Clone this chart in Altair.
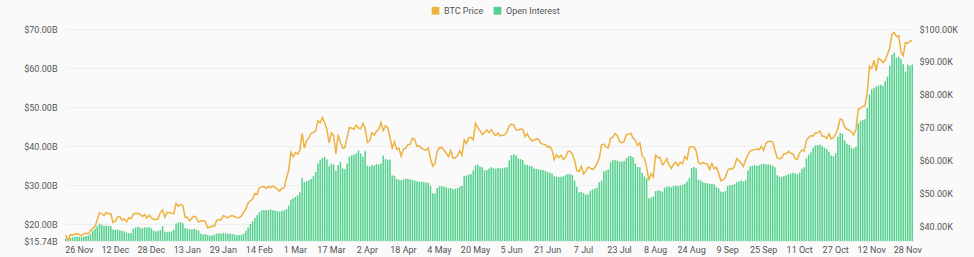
import altair as alt
import pandas as pd

# ---- Open Interest (USD billions), daily, 20 Nov 2023 .. 30 Nov 2024 ----
oi_2023_11 = [16.4, 16.1, 16.5, 16.7, 16.8, 16.9, 16.8, 16.7, 16.9, 17.0, 17.1]
oi_2023_12 = [17.5, 18.4, 18.9, 19.6, 20.2, 19.9, 19.6, 19.7, 19.6, 19.5, 18.7, 18.6, 18.7, 18.5, 18.3, 18.2,
              17.9, 17.7, 17.8, 18.9, 19.2, 19.4, 19.2, 19.0, 19.3, 19.1, 19.3, 19.0, 18.4, 18.2, 18.3]
oi_2024_01 = [18.5, 19.5, 18.2, 18.0, 18.1, 18.2, 18.6, 20.2, 20.4, 20.6, 20.3, 19.0, 18.9, 18.8, 18.7, 18.9,
              18.6, 18.4, 17.6, 17.4, 17.5, 17.3, 17.1, 17.2, 17.4, 17.6, 17.7, 17.6, 17.8, 17.7, 17.6]
oi_2024_02 = [17.6, 17.5, 17.4, 17.2, 17.3, 17.3, 17.6, 18.3, 19.2, 20.1, 20.8, 21.6, 22.3, 23.1, 23.6, 23.7,
              23.6, 23.7, 23.8, 23.6, 23.5, 23.4, 23.3, 23.4, 23.6, 23.9, 24.8, 26.3, 26.7]
oi_2024_03 = [27.0, 27.5, 28.2, 31.9, 30.8, 31.0, 31.3, 31.6, 32.3, 33.4, 35.6, 36.4, 37.0, 37.2, 36.6, 34.9,
              35.5, 35.3, 33.7, 35.2, 36.0, 34.3, 34.1, 35.6, 37.3, 37.7, 37.8, 38.2, 38.9, 38.1, 37.3]
oi_2024_04 = [38.7, 35.0, 34.8, 35.2, 35.0, 35.4, 35.3, 35.6, 37.6, 36.7, 36.5, 36.6, 32.6, 32.4, 31.6, 31.4,
              31.3, 31.5, 31.7, 31.6, 31.5, 31.4, 31.2, 31.0, 30.9, 30.9, 30.8, 30.7, 30.6, 29.8]
oi_2024_05 = [28.0, 27.9, 29.3, 29.7, 29.8, 29.6, 29.5, 29.2, 29.3, 29.0, 29.1, 29.3, 29.6, 29.8, 32.3, 32.5,
              32.7, 32.9, 33.8, 35.1, 35.3, 34.8, 34.6, 33.8, 33.9, 34.3, 34.6, 34.4, 34.2, 34.5, 34.3]
oi_2024_06 = [34.4, 34.5, 34.6, 36.4, 37.7, 37.9, 37.6, 36.9, 36.7, 36.5, 35.3, 35.2, 35.0, 34.9, 34.3, 34.2,
              34.1, 34.0, 33.9, 33.7, 33.4, 33.2, 33.0, 32.3, 32.2, 32.1, 32.2, 32.3, 32.6, 32.9]
oi_2024_07 = [32.8, 32.6, 31.2, 29.6, 28.2, 28.3, 28.0, 27.6, 27.7, 28.6, 28.9, 29.1, 29.4, 30.8, 31.2, 33.5,
              33.8, 34.0, 35.9, 36.4, 36.5, 36.3, 36.1, 36.0, 36.2, 36.9, 37.4, 37.5, 37.2, 35.6, 34.7]
oi_2024_08 = [34.6, 33.2, 32.3, 31.8, 26.7, 26.9, 27.1, 28.5, 28.7, 28.6, 28.4, 29.4, 29.6, 29.7, 29.5, 29.8,
              29.9, 29.8, 29.9, 30.1, 30.4, 31.0, 31.8, 34.4, 34.7, 34.3, 31.4, 31.2, 30.8, 30.6, 30.5]
oi_2024_09 = [30.4, 30.3, 30.2, 29.6, 29.2, 28.4, 28.3, 28.5, 29.8, 30.0, 30.1, 30.3, 30.8, 31.0, 31.2, 31.0,
              31.3, 33.8, 34.8, 35.0, 35.1, 35.0, 35.1, 35.4, 35.5, 35.3, 35.4, 35.2, 35.0, 34.6]
oi_2024_10 = [32.6, 32.2, 32.1, 32.4, 32.6, 32.8, 33.0, 33.2, 33.0, 32.9, 33.3, 34.2, 34.6, 36.9, 37.8, 38.4,
              39.6, 40.2, 40.3, 40.4, 40.0, 39.6, 39.3, 38.6, 37.6, 37.4, 38.2, 42.4, 43.4, 43.2, 41.5]
oi_2024_11 = [40.6, 40.3, 39.6, 39.4, 39.8, 45.8, 46.4, 46.7, 46.9, 49.8, 53.2, 54.6, 54.9, 55.3, 55.5, 55.7,
              55.4, 56.6, 57.8, 60.6, 63.4, 63.9, 62.6, 62.9, 62.3, 61.0, 59.1, 60.9, 60.6, 60.9]

# ---- BTC price (USD thousands), same days ----
px_2023_11 = [37.4, 35.8, 37.4, 37.3, 37.7, 37.8, 37.5, 37.2, 37.8, 37.9, 37.7]
px_2023_12 = [38.7, 39.5, 39.9, 42.0, 44.1, 43.8, 43.3, 44.2, 43.8, 43.8, 41.2, 41.5, 42.9, 43.0, 41.9, 42.3,
              41.4, 42.6, 42.3, 43.7, 43.9, 44.0, 43.7, 43.0, 43.6, 42.5, 43.4, 42.6, 42.1, 42.1, 42.3]
px_2024_01 = [44.2, 45.0, 42.8, 44.2, 44.2, 44.0, 43.9, 47.0, 46.1, 46.6, 46.3, 42.8, 42.8, 41.7, 42.5, 43.1,
              42.7, 41.3, 41.6, 41.7, 41.6, 39.5, 39.8, 40.1, 40.0, 41.8, 42.1, 42.0, 43.3, 42.9, 42.6]
px_2024_02 = [43.1, 43.2, 43.0, 42.6, 42.7, 43.1, 44.3, 45.3, 47.1, 47.8, 48.3, 50.0, 49.7, 51.8, 52.0, 52.1,
              51.6, 52.1, 51.8, 52.3, 51.8, 51.3, 50.7, 51.6, 51.7, 54.5, 57.1, 62.5, 61.2]
px_2024_03 = [62.4, 62.0, 63.1, 68.3, 63.8, 66.1, 66.9, 68.3, 68.5, 69.0, 72.1, 71.5, 73.1, 71.4, 69.5, 65.3,
              68.4, 67.6, 62.0, 67.9, 65.5, 63.8, 64.0, 67.2, 70.0, 69.9, 69.5, 70.8, 69.9, 69.7, 71.3]
px_2024_04 = [69.7, 65.5, 66.0, 68.5, 67.8, 68.9, 69.4, 71.6, 69.1, 70.6, 70.0, 67.1, 63.8, 65.7, 63.4, 63.8,
              61.3, 63.5, 63.8, 64.9, 64.9, 66.8, 66.4, 64.3, 64.5, 63.8, 63.4, 63.1, 63.8, 60.6]
px_2024_05 = [58.3, 59.1, 62.9, 63.9, 64.0, 63.2, 62.3, 61.2, 63.1, 60.8, 60.8, 61.5, 63.0, 61.6, 66.3, 65.2,
              67.0, 67.0, 66.3, 71.4, 70.1, 69.1, 67.9, 68.5, 69.3, 68.5, 69.4, 68.3, 67.6, 68.4, 67.5]
px_2024_06 = [67.7, 67.8, 68.8, 70.6, 71.1, 70.8, 69.3, 69.3, 69.6, 69.5, 67.3, 68.2, 66.8, 66.0, 66.2, 66.6,
              66.5, 65.2, 65.0, 64.9, 64.1, 64.3, 63.2, 60.3, 61.8, 60.9, 61.6, 60.3, 60.9, 62.7]
px_2024_07 = [62.9, 62.0, 60.2, 57.0, 56.7, 58.2, 55.9, 56.7, 58.0, 57.7, 57.3, 57.9, 59.2, 60.8, 64.8, 65.0,
              64.1, 63.9, 66.7, 67.2, 68.2, 67.6, 65.9, 65.4, 65.8, 67.9, 68.0, 68.3, 66.8, 66.2, 64.6]
px_2024_08 = [65.4, 61.5, 60.7, 58.1, 54.0, 56.0, 55.0, 61.7, 60.9, 60.9, 58.7, 59.4, 60.6, 58.7, 57.6, 58.9,
              59.5, 58.4, 59.5, 59.0, 61.2, 60.4, 64.1, 64.2, 64.2, 62.9, 59.4, 59.0, 59.4, 59.1, 58.9]
px_2024_09 = [57.3, 59.1, 57.5, 58.0, 56.2, 53.9, 54.2, 54.9, 57.0, 57.6, 57.4, 58.1, 60.6, 60.0, 59.2, 58.2,
              60.3, 61.7, 62.9, 63.2, 63.3, 63.6, 63.3, 64.3, 63.1, 65.2, 65.8, 65.9, 65.6, 63.3]
px_2024_10 = [60.8, 60.6, 60.8, 62.1, 62.1, 62.8, 62.2, 62.1, 60.6, 60.3, 62.4, 63.2, 62.9, 66.1, 67.0, 67.6,
              67.4, 68.4, 68.4, 69.0, 67.4, 67.4, 66.7, 68.2, 66.6, 67.0, 68.0, 69.9, 72.7, 72.3, 70.2]
px_2024_11 = [69.5, 69.3, 68.7, 67.8, 69.4, 75.6, 75.9, 76.5, 76.7, 80.5, 88.7, 88.0, 90.5, 87.3, 91.1, 90.6,
              89.8, 90.5, 92.3, 94.3, 98.4, 98.9, 97.7, 98.0, 93.0, 91.9, 95.9, 95.6, 96.3, 96.4]

# ---- axis ticks ----
x_tick_dates = ["2023-11-26", "2023-12-12", "2023-12-28", "2024-01-13", "2024-01-29", "2024-02-14",
                "2024-03-01", "2024-03-17", "2024-04-02", "2024-04-18", "2024-05-04", "2024-05-20",
                "2024-06-05", "2024-06-21", "2024-07-07", "2024-07-23", "2024-08-08", "2024-08-24",
                "2024-09-09", "2024-09-25", "2024-10-11", "2024-10-27", "2024-11-12", "2024-11-28"]
oi_ticks = [15.74, 20, 30, 40, 50, 60, 70]
px_ticks = [40, 50, 60, 70, 80, 90, 100]
series_names = ["BTC Price", "Open Interest"]

ORANGE = "#EDB23F"
GREEN = "#55D18E"
TEXT = "#555555"
FONT = "Roboto"

oi = (oi_2023_11 + oi_2023_12 + oi_2024_01 + oi_2024_02 + oi_2024_03 + oi_2024_04 + oi_2024_05 +
      oi_2024_06 + oi_2024_07 + oi_2024_08 + oi_2024_09 + oi_2024_10 + oi_2024_11)
px = (px_2023_11 + px_2023_12 + px_2024_01 + px_2024_02 + px_2024_03 + px_2024_04 + px_2024_05 +
      px_2024_06 + px_2024_07 + px_2024_08 + px_2024_09 + px_2024_10 + px_2024_11)
dates = pd.date_range("2023-11-20", periods=len(oi), freq="D").strftime("%Y-%m-%d")

df = pd.DataFrame({"date": dates, "oi": oi, "price": px[:len(oi)], "series": "Open Interest"})

x = alt.X(
    "date:O",
    scale=alt.Scale(paddingInner=0.32, paddingOuter=0),
    axis=alt.Axis(values=x_tick_dates, labelExpr="utcFormat(toDate(datum.value), '%-d %b')",
                  title=None, ticks=False, domain=False, grid=False, labelAngle=0,
                  labelPadding=4, labelOverlap=False),
)

bars = alt.Chart(df).mark_bar(clip=True).encode(
    x=x,
    y=alt.Y("oi:Q", scale=alt.Scale(domain=[15.74, 70], nice=False, zero=False),
            axis=alt.Axis(values=oi_ticks, labelExpr="'$' + format(datum.value, '.2f') + 'B'",
                          title=None, ticks=False, domain=False, grid=True, gridColor="#efefef",
                          labelPadding=8, labelOverlap=False, labelFlush=False)),
    color=alt.Color("series:N", scale=alt.Scale(domain=series_names, range=[ORANGE, GREEN]),
                    legend=alt.Legend(title=None, orient="none", legendX=366, legendY=-23,
                                      direction="horizontal", symbolType="square", symbolSize=60,
                                      symbolStrokeWidth=0, labelFontSize=9, labelColor=TEXT,
                                      labelFont=FONT, columnPadding=9, labelOffset=4)),
)

line = alt.Chart(df).mark_line(color=ORANGE, strokeWidth=1.5, clip=True).encode(
    x=x,
    y=alt.Y("price:Q", scale=alt.Scale(domain=[35.55, 100], nice=False, zero=False),
            axis=alt.Axis(orient="right", values=px_ticks,
                          labelExpr="'$' + format(datum.value, '.2f') + 'K'",
                          title=None, ticks=False, domain=False, grid=False,
                          labelPadding=6, labelOverlap=False, labelFlush=False)),
)

chart = (
    alt.layer(bars, line)
    .resolve_scale(y="independent")
    .properties(width=848, height=212,
                autosize=alt.AutoSizeParams(type="none"),
                padding={"left": 65, "top": 29, "right": 61, "bottom": 16},
                background="#fafafa")
    .configure_view(stroke=None)
    .configure_axis(labelFont=FONT, labelFontSize=9, labelColor=TEXT)
)

chart.save("out.html", embed_options={"renderer": "svg", "actions": False})
